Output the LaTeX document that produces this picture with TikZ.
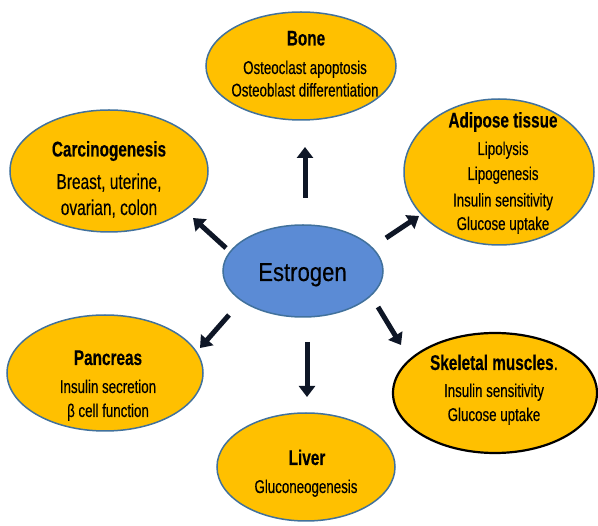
\documentclass[tikz,border=0pt]{standalone}
\usepackage{fontspec}
\setmainfont[FakeStretch=0.72, FakeBold=0.3]{Liberation Sans}
\newfontfamily\estfont[FakeStretch=0.85, FakeBold=0.3]{Liberation Sans}
\usetikzlibrary{shapes.geometric,arrows.meta}
\definecolor{gold}{HTML}{FFC000}
\definecolor{edgeblue}{HTML}{41719C}
\definecolor{estblue}{HTML}{5B8BD5}
\definecolor{arrowdark}{HTML}{0E1626}
\tikzset{
  ell/.style={ellipse, draw=edgeblue, line width=1.5pt, fill=gold, inner sep=0pt},
  ttl/.style={anchor=base, inner sep=0pt, font=\fontsize{21.3}{21.3}\selectfont\bfseries},
  bdy/.style={anchor=base, inner sep=0pt, font=\fontsize{18.5}{18.5}\selectfont},
  bigbdy/.style={anchor=base, inner sep=0pt, font=\fontsize{21.5}{21.5}\selectfont},
  arr/.style={draw=arrowdark, line width=5pt, -{Triangle[length=11pt 0 0, width=16pt 0 0]}}
}
\begin{document}
\begin{tikzpicture}[x=1pt, y=-1pt]
\useasboundingbox (0,0) rectangle (598,526);
% ellipses
\node[ell, minimum width=190pt, minimum height=108pt] (bone) at (301,66) {};
\node[ell, minimum width=190pt, minimum height=146pt] (adipose) at (499,172) {};
\node[ell, minimum width=198pt, minimum height=122pt] (carc) at (109,171) {};
\node[ell, fill=estblue, minimum width=160pt, minimum height=92pt] (estrogen) at (303,271) {};
\node[ell, draw=black, line width=2.2pt, minimum width=204pt, minimum height=120pt] (skel) at (495,393) {};
\node[ell, minimum width=196pt, minimum height=116pt] (panc) at (105,373) {};
\node[ell, minimum width=178pt, minimum height=108pt] (liver) at (306,467) {};
% texts
\node[ttl] (bone-t) at (306,45.5) {Bone};
\node[bdy] (bone-a) at (305,74) {Osteoclast apoptosis};
\node[bdy] (bone-b) at (305,96.5) {Osteoblast differentiation};
\node[ttl] (adi-t) at (503,127.5) {Adipose tissue};
\node[bdy] (adi-a) at (503,155) {Lipolysis};
\node[bdy] (adi-b) at (503,180) {Lipogenesis};
\node[bdy] (adi-c) at (503,206.5) {Insulin sensitivity};
\node[bdy] (adi-d) at (503,230) {Glucose uptake};
\node[ttl] (carc-t) at (109,156.5) {Carcinogenesis};
\node[bigbdy] (carc-a) at (109,189) {Breast, uterine,};
\node[bigbdy] (carc-b) at (109,215) {ovarian, colon};
\node[anchor=base, inner sep=0pt, font=\estfont\fontsize{26}{26}\selectfont] (est-t) at (302.5,281) {Estrogen};
\node[ttl] (skel-t) at (494,370) {Skeletal muscles\mdseries.};
\node[bdy] (skel-a) at (494,397) {Insulin sensitivity};
\node[bdy] (skel-b) at (494,421) {Glucose uptake};
\node[ttl] (panc-t) at (108,365) {Pancreas};
\node[bdy] (panc-a) at (108,393) {Insulin secretion};
\node[bdy] (panc-b) at (108,417) {β cell function};
\node[ttl] (liver-t) at (307,465) {Liver};
\node[bdy] (liver-a) at (306,493) {Gluconeogenesis};
% arrow ends
\coordinate (a1s) at (305,198); \coordinate (a1e) at (305,147);
\coordinate (a2s) at (386,238); \coordinate (a2e) at (419,216);
\coordinate (a3s) at (226,248); \coordinate (a3e) at (193,218);
\coordinate (a4s) at (229,315); \coordinate (a4e) at (200,348);
\coordinate (a5s) at (307,342); \coordinate (a5e) at (307,397);
\coordinate (a6s) at (378,307); \coordinate (a6e) at (401,345);
\draw[arr] (a1s) -- (a1e);
\draw[arr] (a2s) -- (a2e);
\draw[arr] (a3s) -- (a3e);
\draw[arr] (a4s) -- (a4e);
\draw[arr] (a5s) -- (a5e);
\draw[arr] (a6s) -- (a6e);
\end{tikzpicture}
\end{document}
